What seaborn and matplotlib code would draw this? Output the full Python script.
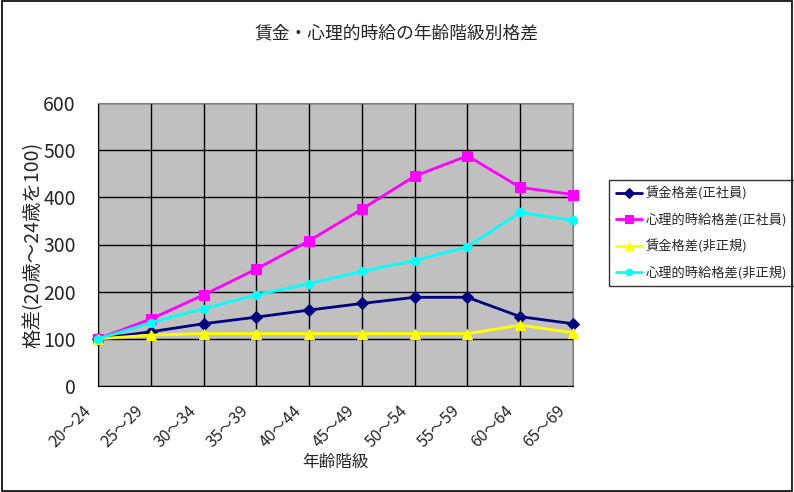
import matplotlib
matplotlib.use("Agg")
import matplotlib.pyplot as plt
import matplotlib.transforms as mtransforms
import seaborn as sns
import pandas as pd

age_groups = ["20～24", "25～29", "30～34", "35～39", "40～44",
              "45～49", "50～54", "55～59", "60～64", "65～69"]
wage_regular = [100, 115, 132, 146, 161, 175, 188, 188, 147, 132]
psych_regular = [100, 142, 193, 248, 308, 375, 445, 488, 421, 406]
wage_nonregular = [100, 108, 111, 111, 111, 111, 111, 111, 129, 113]
psych_nonregular = [100, 134, 164, 193, 217, 243, 266, 295, 368, 351]

series_names = ["賃金格差(正社員)", "心理的時給格差(正社員)",
                "賃金格差(非正規)", "心理的時給格差(非正規)"]
series_values = [wage_regular, psych_regular, wage_nonregular, psych_nonregular]
colors = ["#000080", "#FF00FF", "#FFFF00", "#00FFFF"]
markers = ["D", "s", "^", "o"]
msizes = [6, 7, 7, 6]

sns.set_style("white")
plt.rcParams["font.family"] = ["Noto Sans CJK JP", "DejaVu Sans"]

fig = plt.figure(figsize=(7.94, 4.92), dpi=100)
ax = fig.add_axes([98 / 794, 1 - 386 / 492, 475 / 794, 283 / 492])
ax.set_facecolor("#C0C0C0")

pos = list(range(len(age_groups)))
for name, vals, c, m, ms in zip(series_names, series_values, colors, markers, msizes):
    df = pd.DataFrame({"x": pos, "y": vals})
    sns.lineplot(data=df, x="x", y="y", ax=ax, color=c, marker=m,
                 markersize=ms, markeredgecolor=c, linewidth=2, label=name,
                 clip_on=False, zorder=3)

ax.set_xlim(0, 9)
ax.set_ylim(0, 600)
ax.set_yticks(range(0, 601, 100))
ax.set_xticks(pos)
ax.set_xticklabels(age_groups, rotation=45, ha="right", rotation_mode="anchor",
                   fontsize=11.5)
ax.tick_params(axis="y", labelsize=14, length=0, pad=16)
ax.tick_params(axis="x", length=0, pad=14)
# ラベルを少し左へずらす (tick_params の後で)
shift = mtransforms.ScaledTranslation(-16 / 100, 3 / 100, fig.dpi_scale_trans)
for lbl in ax.get_xticklabels():
    lbl.set_transform(lbl.get_transform() + shift)
ax.grid(True, color="black", linewidth=1)
ax.set_axisbelow(True)
for s in ["top", "right"]:
    ax.spines[s].set_color("#808080")
for s in ["left", "bottom"]:
    ax.spines[s].set_color("black")

ax.set_xlabel("年齢階級", fontsize=12, labelpad=2)
ax.set_ylabel("格差(20歳～24歳を100)", fontsize=14, labelpad=0)
fig.text(0.5, 1 - 33 / 492, "賃金・心理的時給の年齢階級別格差", ha="center",
         va="center", fontsize=12.8)

leg = ax.legend(loc="upper left", bbox_to_anchor=(609 / 794, 1 - 180 / 492),
                bbox_transform=fig.transFigure,
                frameon=True, fancybox=False, edgecolor="black", fontsize=9.5,
                handlelength=2.0, handletextpad=0.3, borderpad=0.5,
                labelspacing=0.95, borderaxespad=0, markerscale=0.8)
leg.get_frame().set_linewidth(1)

fig.patches.append(plt.Rectangle((0.002, 0.003), 0.995, 0.994, transform=fig.transFigure,
                                 fill=False, edgecolor="black", linewidth=1.2))

fig.savefig("out.png", dpi=100)
